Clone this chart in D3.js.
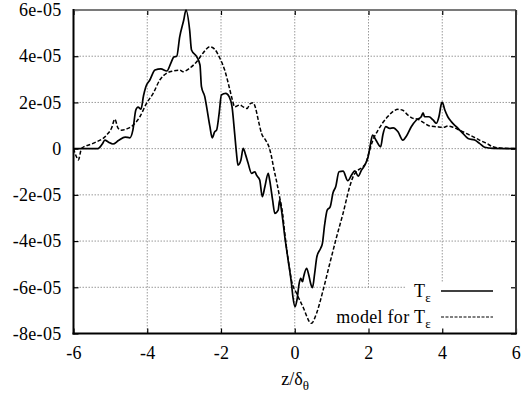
<!DOCTYPE html>
<html>
<head>
<meta charset="utf-8">
<script src="https://cdn.jsdelivr.net/npm/d3@7"></script>
<style>
html,body{margin:0;padding:0;background:#fff;}
svg{display:block;}
</style>
</head>
<body>
<svg id="chart" width="526" height="394"></svg>
<script>
// ---- data (y values in units of 1e-05) ----
const xTickValues = [-6, -4, -2, 0, 2, 4, 6];
const xTickLabels = ["-6", "-4", "-2", "0", "2", "4", "6"];
const yTickValues = [-8, -6, -4, -2, 0, 2, 4, 6];
const yTickLabels = ["-8e-05", "-6e-05", "-4e-05", "-2e-05", "0", "2e-05", "4e-05", "6e-05"];
const seriesNames = ["T", "model for T"];

const tepsX = [-6,-5.34,-5.22,-5.15,-5.05,-4.93,-4.78,-4.6,-4.47,-4.39,-4.31,-4.25,-4.17,-4.1,-4.04,-3.93,-3.79,-3.63,-3.47,-3.36,-3.28,-3.2,-3.12,-3.01,-2.95,-2.85,-2.8,-2.66,-2.57,-2.53,-2.44,-2.39,-2.3,-2.24,-2.17,-2.12,-2.05,-1.99,-1.87,-1.78,-1.7,-1.63,-1.58,-1.54,-1.46,-1.4,-1.33,-1.27,-1.17,-1.08,-1.04,-0.95,-0.88,-0.81,-0.72,-0.68,-0.6,-0.54,-0.45,-0.41,-0.36,-0.27,-0.18,-0.09,-0.05,0.01,0.06,0.12,0.16,0.21,0.24,0.32,0.38,0.43,0.48,0.54,0.6,0.7,0.75,0.81,0.88,0.96,1.04,1.11,1.2,1.31,1.44,1.54,1.63,1.72,1.81,1.9,1.99,2.05,2.11,2.2,2.33,2.39,2.47,2.57,2.67,2.8,2.93,3.03,3.16,3.3,3.43,3.48,3.52,3.64,3.75,3.84,3.91,3.98,4.0,4.07,4.15,4.25,4.38,4.52,4.7,4.88,5.01,5.15,5.37,6];
const tepsY = [0,0,0.2,0.37,0.28,0.2,0.35,0.5,0.47,0.8,1.67,1.8,1.71,2.3,2.67,2.97,3.4,3.45,3.36,3.7,3.97,4.0,4.84,5.57,6.0,5.13,4.27,3.98,3.62,2.68,2.25,1.81,0.95,0.47,0.73,0.8,1.53,2.32,2.39,2.25,1.81,0.66,-0.2,-0.71,-0.49,0.01,-0.28,-0.6,-1.07,-1.0,-1.14,-1.36,-2.08,-1.65,-1.07,-1.36,-2.23,-2.8,-2.66,-2.23,-2.66,-3.81,-4.82,-5.83,-6.41,-6.84,-6.55,-5.83,-5.61,-5.76,-5.55,-5.18,-5.47,-5.83,-6.02,-5.4,-4.68,-4.32,-4.1,-3.3,-2.66,-2.52,-1.9,-1.65,-1.0,-0.97,-1.39,-1.14,-0.96,-1.19,-0.93,-0.71,-0.35,0.16,0.59,0.37,0.08,0.6,0.95,0.88,0.9,0.73,0.37,0.55,0.95,1.24,1.38,1.55,1.38,1.38,1.24,1.1,1.38,1.96,2.0,1.67,1.38,1.16,0.95,0.73,0.44,0.37,0.23,0.06,0.01,0];

const modelX = [-6,-5.92,-5.87,-5.78,-5.47,-5.1,-4.97,-4.88,-4.79,-4.7,-4.52,-4.38,-4.2,-4.02,-3.84,-3.66,-3.48,-3.3,-3.12,-3.03,-2.85,-2.66,-2.49,-2.3,-2.17,-2.03,-1.9,-1.78,-1.69,-1.63,-1.49,-1.4,-1.29,-1.22,-1.13,-1.06,-0.99,-0.9,-0.79,-0.7,-0.63,-0.57,-0.5,-0.41,-0.33,-0.27,-0.21,-0.14,-0.09,0.05,0.22,0.45,0.59,0.77,0.95,1.13,1.31,1.49,1.58,1.72,1.85,1.94,2.03,2.12,2.26,2.39,2.53,2.66,2.8,2.93,3.07,3.21,3.34,3.52,3.66,3.84,4.02,4.16,4.3,4.47,4.65,4.83,5.01,5.2,5.37,5.56,6];
const modelY = [0,-0.35,-0.49,0.01,0.23,0.59,0.88,1.27,0.88,0.8,0.88,1.02,1.38,1.96,2.39,2.97,3.26,3.36,3.4,3.33,3.48,3.76,4.13,4.41,4.3,3.91,3.4,2.68,2.1,1.81,1.89,1.81,1.74,1.93,1.99,1.74,1.24,0.66,0.37,0.08,-0.35,-0.85,-1.36,-2.1,-2.8,-3.67,-4.45,-5.2,-5.69,-6.26,-6.84,-7.56,-7.13,-6.12,-4.97,-3.85,-2.8,-1.65,-1.22,-0.93,-0.78,-0.57,-0.06,0.37,0.8,1.13,1.4,1.6,1.7,1.66,1.45,1.31,1.27,1.1,0.98,0.95,0.92,0.98,0.92,0.8,0.66,0.52,0.37,0.23,0.08,0.03,0];

// ---- layout ----
const FONT = "'Liberation Serif'";
const L = 73.5, R = 516, T = 10, B = 333.5;
const svg = d3.select("#chart");
const x = d3.scaleLinear().domain([-6, 6]).range([L, R]);
const y = d3.scaleLinear().domain([-8, 6]).range([B, T]);

// grid
const grid = svg.append("g");
grid.selectAll("line.gx").data(xTickValues.slice(1, -1)).enter().append("line")
  .attr("x1", d => x(d)).attr("x2", d => x(d)).attr("y1", T).attr("y2", B)
  .attr("stroke", "#9a9a9a").attr("stroke-width", 1).attr("stroke-dasharray", "1.5,1.5");
grid.selectAll("line.gy").data(yTickValues.slice(1, -1)).enter().append("line")
  .attr("x1", L).attr("x2", R).attr("y1", d => y(d)).attr("y2", d => y(d))
  .attr("stroke", "#9a9a9a").attr("stroke-width", 1).attr("stroke-dasharray", "1.5,1.5");

// legend background (opaque key)
svg.append("rect").attr("x", 405).attr("y", 283).attr("width", R - 405 - 1).attr("height", B - 283 - 1).attr("fill", "#fff");
svg.append("rect").attr("x", 330).attr("y", 288.5).attr("width", R - 330 - 1).attr("height", B - 288.5 - 1).attr("fill", "#fff");

// axes
const fmtX = d => xTickLabels[xTickValues.indexOf(d)];
const fmtY = d => yTickLabels[yTickValues.indexOf(d)];
const ax = svg.append("g").attr("transform", `translate(0,${B})`)
  .call(d3.axisBottom(x).tickValues(xTickValues).tickFormat(fmtX).tickSizeInner(-5).tickSizeOuter(0).tickPadding(13));
const ay = svg.append("g").attr("transform", `translate(${L},0)`)
  .call(d3.axisLeft(y).tickValues(yTickValues).tickFormat(fmtY).tickSizeInner(-5).tickSizeOuter(0).tickPadding(12));
const at = svg.append("g").attr("transform", `translate(0,${T})`)
  .call(d3.axisTop(x).tickValues(xTickValues).tickFormat("").tickSizeInner(-5).tickSizeOuter(0));
const ar = svg.append("g").attr("transform", `translate(${R},0)`)
  .call(d3.axisRight(y).tickValues(yTickValues).tickFormat("").tickSizeInner(-5).tickSizeOuter(0));
[ax, ay, at, ar].forEach(g => {
  g.attr("font-family", FONT).attr("font-size", 18);
  g.select(".domain").remove();
  g.selectAll(".tick line").attr("stroke", "#000").attr("stroke-width", 1.2);
  g.selectAll("text").attr("fill", "#000").style("letter-spacing", "0.3px");
});

// border
svg.append("line").attr("x1", L).attr("x2", R).attr("y1", T).attr("y2", T).attr("stroke", "#7a7a7a").attr("stroke-width", 2);
svg.append("line").attr("x1", R).attr("x2", R).attr("y1", T).attr("y2", B).attr("stroke", "#3a3a3a").attr("stroke-width", 2);
svg.append("line").attr("x1", L).attr("x2", L).attr("y1", T - 1).attr("y2", B + 1).attr("stroke", "#000").attr("stroke-width", 2);
svg.append("line").attr("x1", L - 1).attr("x2", R + 1).attr("y1", B).attr("y2", B).attr("stroke", "#000").attr("stroke-width", 2);

// curves
svg.append("clipPath").attr("id", "clip").append("rect").attr("x", L).attr("y", T - 1).attr("width", R - L).attr("height", B - T + 1);
const line = d3.line().x(d => x(d[0])).y(d => y(d[1])).curve(d3.curveMonotoneX);
const tepsData = tepsX.map((v, i) => [v, tepsY[i]]);
const modelData = modelX.map((v, i) => [v, modelY[i]]);
svg.append("path").datum(modelData).attr("d", line).attr("fill", "none")
  .attr("stroke", "#000").attr("stroke-width", 1.5).attr("stroke-dasharray", "4,2").attr("clip-path", "url(#clip)");
svg.append("path").datum(tepsData).attr("d", line).attr("fill", "none")
  .attr("stroke", "#000").attr("stroke-width", 1.7).attr("clip-path", "url(#clip)");

// legend
const lg = svg.append("g").attr("font-family", FONT).attr("font-size", 18);
const rows = [{y: 297, dash: null, w: 1.7}, {y: 323, dash: "3,1.5", w: 1.2}];
rows.forEach((r, i) => {
  const t = lg.append("text").attr("x", 431).attr("y", r.y).attr("text-anchor", "end").style("letter-spacing", "0.3px");
  t.append("tspan").text(seriesNames[i]);
  t.append("tspan").attr("font-size", 13).attr("dy", 5).text("ε");
  lg.append("line").attr("x1", 441).attr("x2", 493).attr("y1", r.y - 6).attr("y2", r.y - 6)
    .attr("stroke", "#000").attr("stroke-width", r.w).attr("stroke-dasharray", r.dash);
});

// x axis title
const xt = svg.append("text").attr("x", 295).attr("y", 385).attr("text-anchor", "middle")
  .attr("font-family", FONT).attr("font-size", 18);
xt.append("tspan").text("z/δ");
xt.append("tspan").attr("font-size", 13).attr("dy", 5).text("θ");
</script>
</body>
</html>
